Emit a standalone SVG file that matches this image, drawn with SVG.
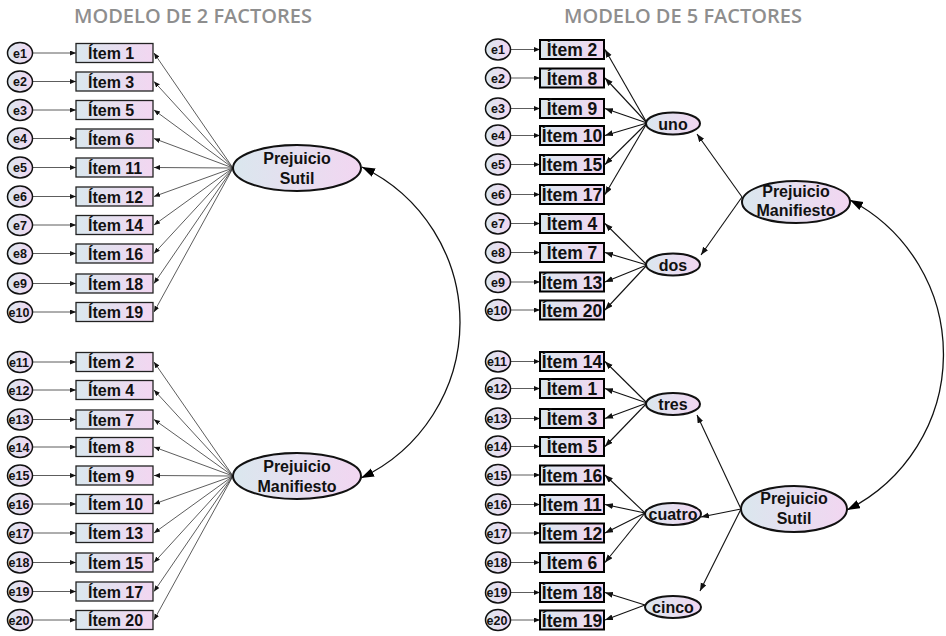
<svg xmlns="http://www.w3.org/2000/svg" width="946" height="636" viewBox="0 0 946 636">
<style>
  .title { font-family: "Open Sans", "Liberation Sans", sans-serif; font-weight: 600; font-size: 20px; fill: #8e8e8e; text-anchor: middle; }
  .box-l { fill: url(#fillGrad); stroke: #222; stroke-width: 1.3; }
  .box-r { fill: url(#fillGrad); stroke: #000; stroke-width: 2; }
  .err { fill: url(#fillGrad); stroke: #111; stroke-width: 1.5; }
  .lat { fill: url(#fillGrad); stroke: #111; stroke-width: 2; }
  .t-item-l { font-family: "Liberation Sans", Arial, sans-serif; font-weight: bold; font-size: 16px; fill: #111; }
  .t-item-r { font-family: "Liberation Sans", Arial, sans-serif; font-weight: bold; font-size: 17.5px; fill: #111; text-anchor: middle; }
  .t-err { font-family: "Liberation Sans", Arial, sans-serif; font-weight: bold; font-size: 12.5px; fill: #111; text-anchor: middle; }
  .t-lat { font-family: "Liberation Sans", Arial, sans-serif; font-weight: bold; font-size: 16px; fill: #111; text-anchor: middle; }
  .ln-thin { stroke: #333; stroke-width: 0.8; fill: none; marker-end: url(#arrSmall); }
  .ln { stroke: #111; stroke-width: 1.1; fill: none; marker-end: url(#arrMid); }
  .cov { stroke: #111; stroke-width: 1.3; fill: none; marker-start: url(#arrBig); marker-end: url(#arrBig); }
</style>
<defs>
  <linearGradient id="fillGrad" x1="0" y1="0" x2="1" y2="0">
    <stop offset="0" stop-color="#dae7ee"/>
    <stop offset="1" stop-color="#f2d6f1"/>
  </linearGradient>
  <marker id="arrSmall" markerUnits="userSpaceOnUse" markerWidth="7" markerHeight="6" refX="6" refY="2.5" orient="auto">
    <path d="M0,0 L6,2.5 L0,5 z" fill="#111"/>
  </marker>
  <marker id="arrMid" markerUnits="userSpaceOnUse" markerWidth="9" markerHeight="8" refX="8" refY="3" orient="auto">
    <path d="M0,0 L8,3 L0,6 z" fill="#111"/>
  </marker>
  <marker id="arrBig" markerUnits="userSpaceOnUse" markerWidth="14" markerHeight="10" refX="13" refY="4.5" orient="auto-start-reverse">
    <path d="M0,0 L13,4.5 L0,9 z" fill="#000"/>
  </marker>
</defs>

<rect width="946" height="636" fill="#fff"/>

<text class="title" x="193" y="23">MODELO DE 2 FACTORES</text>
<text class="title" x="683" y="23">MODELO DE 5 FACTORES</text>

<g id="connectors">
  <!-- two-factor model: error terms -->
  <line class="ln-thin" x1="33" y1="53" x2="76" y2="53"/>
  <line class="ln-thin" x1="33" y1="81.5" x2="76" y2="81.5"/>
  <line class="ln-thin" x1="33" y1="110" x2="76" y2="110"/>
  <line class="ln-thin" x1="33" y1="138.5" x2="76" y2="138.5"/>
  <line class="ln-thin" x1="33" y1="167.5" x2="76" y2="167.5"/>
  <line class="ln-thin" x1="33" y1="196.5" x2="76" y2="196.5"/>
  <line class="ln-thin" x1="33" y1="225" x2="76" y2="225"/>
  <line class="ln-thin" x1="33" y1="253.5" x2="76" y2="253.5"/>
  <line class="ln-thin" x1="33" y1="283.5" x2="76" y2="283.5"/>
  <line class="ln-thin" x1="33" y1="312" x2="76" y2="312"/>
  <line class="ln-thin" x1="33" y1="362" x2="76" y2="362"/>
  <line class="ln-thin" x1="33" y1="390" x2="76" y2="390"/>
  <line class="ln-thin" x1="33" y1="419.5" x2="76" y2="419.5"/>
  <line class="ln-thin" x1="33" y1="447" x2="76" y2="447"/>
  <line class="ln-thin" x1="33" y1="475.5" x2="76" y2="475.5"/>
  <line class="ln-thin" x1="33" y1="504" x2="76" y2="504"/>
  <line class="ln-thin" x1="33" y1="533" x2="76" y2="533"/>
  <line class="ln-thin" x1="33" y1="562.5" x2="76" y2="562.5"/>
  <line class="ln-thin" x1="33" y1="591.5" x2="76" y2="591.5"/>
  <line class="ln-thin" x1="33" y1="620" x2="76" y2="620"/>

  <!-- two-factor model: loadings of Prejuicio Sutil -->
  <line class="ln-thin" x1="233" y1="168" x2="154" y2="53"/>
  <line class="ln-thin" x1="233" y1="168" x2="154" y2="81.5"/>
  <line class="ln-thin" x1="233" y1="168" x2="154" y2="110"/>
  <line class="ln-thin" x1="233" y1="168" x2="154" y2="138.5"/>
  <line class="ln-thin" x1="233" y1="168" x2="154" y2="167.5"/>
  <line class="ln-thin" x1="233" y1="168" x2="154" y2="196.5"/>
  <line class="ln-thin" x1="233" y1="168" x2="154" y2="225"/>
  <line class="ln-thin" x1="233" y1="168" x2="154" y2="253.5"/>
  <line class="ln-thin" x1="233" y1="168" x2="154" y2="283.5"/>
  <line class="ln-thin" x1="233" y1="168" x2="154" y2="312"/>

  <!-- two-factor model: loadings of Prejuicio Manifiesto -->
  <line class="ln-thin" x1="233" y1="476" x2="154" y2="362"/>
  <line class="ln-thin" x1="233" y1="476" x2="154" y2="390"/>
  <line class="ln-thin" x1="233" y1="476" x2="154" y2="419.5"/>
  <line class="ln-thin" x1="233" y1="476" x2="154" y2="447"/>
  <line class="ln-thin" x1="233" y1="476" x2="154" y2="475.5"/>
  <line class="ln-thin" x1="233" y1="476" x2="154" y2="504"/>
  <line class="ln-thin" x1="233" y1="476" x2="154" y2="533"/>
  <line class="ln-thin" x1="233" y1="476" x2="154" y2="562.5"/>
  <line class="ln-thin" x1="233" y1="476" x2="154" y2="591.5"/>
  <line class="ln-thin" x1="233" y1="476" x2="154" y2="620"/>

  <!-- two-factor model: covariance -->
  <path class="cov" d="M362,167 A172,172 0 0,1 361,478"/>

  <!-- five-factor model: error terms -->
  <line class="ln-thin" x1="511" y1="49.5" x2="540" y2="49.5"/>
  <line class="ln-thin" x1="511" y1="78" x2="540" y2="78"/>
  <line class="ln-thin" x1="511" y1="108.5" x2="540" y2="108.5"/>
  <line class="ln-thin" x1="511" y1="135.5" x2="540" y2="135.5"/>
  <line class="ln-thin" x1="511" y1="164.5" x2="540" y2="164.5"/>
  <line class="ln-thin" x1="511" y1="194.5" x2="540" y2="194.5"/>
  <line class="ln-thin" x1="511" y1="223.5" x2="540" y2="223.5"/>
  <line class="ln-thin" x1="511" y1="252.5" x2="540" y2="252.5"/>
  <line class="ln-thin" x1="511" y1="282" x2="540" y2="282"/>
  <line class="ln-thin" x1="511" y1="310" x2="540" y2="310"/>
  <line class="ln-thin" x1="511" y1="361.5" x2="540" y2="361.5"/>
  <line class="ln-thin" x1="511" y1="388.5" x2="540" y2="388.5"/>
  <line class="ln-thin" x1="511" y1="418.5" x2="540" y2="418.5"/>
  <line class="ln-thin" x1="511" y1="446.5" x2="540" y2="446.5"/>
  <line class="ln-thin" x1="511" y1="475" x2="540" y2="475"/>
  <line class="ln-thin" x1="511" y1="504.5" x2="540" y2="504.5"/>
  <line class="ln-thin" x1="511" y1="533" x2="540" y2="533"/>
  <line class="ln-thin" x1="511" y1="562.5" x2="540" y2="562.5"/>
  <line class="ln-thin" x1="511" y1="592.5" x2="540" y2="592.5"/>
  <line class="ln-thin" x1="511" y1="620" x2="540" y2="620"/>

  <!-- five-factor model: first-order loadings -->
  <line class="ln" x1="647" y1="123" x2="605" y2="49.5"/>
  <line class="ln" x1="647" y1="123" x2="605" y2="78"/>
  <line class="ln" x1="647" y1="123" x2="605" y2="108.5"/>
  <line class="ln" x1="647" y1="123" x2="605" y2="135.5"/>
  <line class="ln" x1="647" y1="123" x2="605" y2="164.5"/>
  <line class="ln" x1="647" y1="123" x2="605" y2="194.5"/>

  <line class="ln" x1="647" y1="265" x2="605" y2="223.5"/>
  <line class="ln" x1="647" y1="265" x2="605" y2="252.5"/>
  <line class="ln" x1="647" y1="265" x2="605" y2="282"/>
  <line class="ln" x1="647" y1="265" x2="605" y2="310"/>

  <line class="ln" x1="647" y1="403" x2="605" y2="361.5"/>
  <line class="ln" x1="647" y1="403" x2="605" y2="388.5"/>
  <line class="ln" x1="647" y1="403" x2="605" y2="418.5"/>
  <line class="ln" x1="647" y1="403" x2="605" y2="446.5"/>

  <line class="ln" x1="645" y1="513" x2="605" y2="475"/>
  <line class="ln" x1="645" y1="513" x2="605" y2="504.5"/>
  <line class="ln" x1="645" y1="513" x2="605" y2="533"/>
  <line class="ln" x1="645" y1="513" x2="605" y2="562.5"/>

  <line class="ln" x1="645" y1="605" x2="605" y2="592.5"/>
  <line class="ln" x1="645" y1="605" x2="605" y2="620"/>

  <!-- five-factor model: second-order loadings -->
  <line class="ln" x1="742" y1="197" x2="697" y2="134"/>
  <line class="ln" x1="742" y1="197" x2="701" y2="255"/>
  <line class="ln" x1="741" y1="509" x2="697" y2="415"/>
  <line class="ln" x1="741" y1="509" x2="701" y2="517"/>
  <line class="ln" x1="741" y1="509" x2="700" y2="591"/>

  <!-- five-factor model: covariance -->
  <path class="cov" d="M850,200 A174,174 0 0,1 847,510"/>
</g>

<!-- two-factor model: error terms -->
<g id="l-e1"><ellipse class="err" cx="20" cy="53" rx="12.5" ry="10.5"/><text class="t-err" x="20" y="57.5">e1</text></g>
<g id="l-e2"><ellipse class="err" cx="20" cy="81.5" rx="12.5" ry="10.5"/><text class="t-err" x="20" y="86">e2</text></g>
<g id="l-e3"><ellipse class="err" cx="20" cy="110" rx="12.5" ry="10.5"/><text class="t-err" x="20" y="114.5">e3</text></g>
<g id="l-e4"><ellipse class="err" cx="20" cy="138.5" rx="12.5" ry="10.5"/><text class="t-err" x="20" y="143">e4</text></g>
<g id="l-e5"><ellipse class="err" cx="20" cy="167.5" rx="12.5" ry="10.5"/><text class="t-err" x="20" y="172">e5</text></g>
<g id="l-e6"><ellipse class="err" cx="20" cy="196.5" rx="12.5" ry="10.5"/><text class="t-err" x="20" y="201">e6</text></g>
<g id="l-e7"><ellipse class="err" cx="20" cy="225" rx="12.5" ry="10.5"/><text class="t-err" x="20" y="229.5">e7</text></g>
<g id="l-e8"><ellipse class="err" cx="20" cy="253.5" rx="12.5" ry="10.5"/><text class="t-err" x="20" y="258">e8</text></g>
<g id="l-e9"><ellipse class="err" cx="20" cy="283.5" rx="12.5" ry="10.5"/><text class="t-err" x="20" y="288">e9</text></g>
<g id="l-e10"><ellipse class="err" cx="20" cy="312" rx="12.5" ry="10.5"/><text class="t-err" x="19" y="316.5">e10</text></g>
<g id="l-e11"><ellipse class="err" cx="20" cy="362" rx="12.5" ry="10.5"/><text class="t-err" x="19" y="366.5">e11</text></g>
<g id="l-e12"><ellipse class="err" cx="20" cy="390" rx="12.5" ry="10.5"/><text class="t-err" x="19" y="394.5">e12</text></g>
<g id="l-e13"><ellipse class="err" cx="20" cy="419.5" rx="12.5" ry="10.5"/><text class="t-err" x="19" y="424">e13</text></g>
<g id="l-e14"><ellipse class="err" cx="20" cy="447" rx="12.5" ry="10.5"/><text class="t-err" x="19" y="451.5">e14</text></g>
<g id="l-e15"><ellipse class="err" cx="20" cy="475.5" rx="12.5" ry="10.5"/><text class="t-err" x="19" y="480">e15</text></g>
<g id="l-e16"><ellipse class="err" cx="20" cy="504" rx="12.5" ry="10.5"/><text class="t-err" x="19" y="508.5">e16</text></g>
<g id="l-e17"><ellipse class="err" cx="20" cy="533" rx="12.5" ry="10.5"/><text class="t-err" x="19" y="537.5">e17</text></g>
<g id="l-e18"><ellipse class="err" cx="20" cy="562.5" rx="12.5" ry="10.5"/><text class="t-err" x="19" y="567">e18</text></g>
<g id="l-e19"><ellipse class="err" cx="20" cy="591.5" rx="12.5" ry="10.5"/><text class="t-err" x="19" y="596">e19</text></g>
<g id="l-e20"><ellipse class="err" cx="20" cy="620" rx="12.5" ry="10.5"/><text class="t-err" x="19" y="624.5">e20</text></g>

<!-- two-factor model: observed items -->
<g id="l-item1"><rect class="box-l" x="76" y="43.5" width="77" height="19"/><text class="t-item-l" x="88" y="59">Ítem 1</text></g>
<g id="l-item3"><rect class="box-l" x="76" y="72" width="77" height="19"/><text class="t-item-l" x="88" y="87.5">Ítem 3</text></g>
<g id="l-item5"><rect class="box-l" x="76" y="100.5" width="77" height="19"/><text class="t-item-l" x="88" y="116">Ítem 5</text></g>
<g id="l-item6"><rect class="box-l" x="76" y="129" width="77" height="19"/><text class="t-item-l" x="88" y="144.5">Ítem 6</text></g>
<g id="l-item11"><rect class="box-l" x="76" y="158" width="77" height="19"/><text class="t-item-l" x="88" y="173.5">Ítem 11</text></g>
<g id="l-item12"><rect class="box-l" x="76" y="187" width="77" height="19"/><text class="t-item-l" x="88" y="202.5">Ítem 12</text></g>
<g id="l-item14"><rect class="box-l" x="76" y="215.5" width="77" height="19"/><text class="t-item-l" x="88" y="231">Ítem 14</text></g>
<g id="l-item16"><rect class="box-l" x="76" y="244" width="77" height="19"/><text class="t-item-l" x="88" y="259.5">Ítem 16</text></g>
<g id="l-item18"><rect class="box-l" x="76" y="274" width="77" height="19"/><text class="t-item-l" x="88" y="289.5">Ítem 18</text></g>
<g id="l-item19"><rect class="box-l" x="76" y="302.5" width="77" height="19"/><text class="t-item-l" x="88" y="318">Ítem 19</text></g>
<g id="l-item2"><rect class="box-l" x="76" y="352.5" width="77" height="19"/><text class="t-item-l" x="88" y="368">Ítem 2</text></g>
<g id="l-item4"><rect class="box-l" x="76" y="380.5" width="77" height="19"/><text class="t-item-l" x="88" y="396">Ítem 4</text></g>
<g id="l-item7"><rect class="box-l" x="76" y="410" width="77" height="19"/><text class="t-item-l" x="88" y="425.5">Ítem 7</text></g>
<g id="l-item8"><rect class="box-l" x="76" y="437.5" width="77" height="19"/><text class="t-item-l" x="88" y="453">Ítem 8</text></g>
<g id="l-item9"><rect class="box-l" x="76" y="466" width="77" height="19"/><text class="t-item-l" x="88" y="481.5">Ítem 9</text></g>
<g id="l-item10"><rect class="box-l" x="76" y="494.5" width="77" height="19"/><text class="t-item-l" x="88" y="510">Ítem 10</text></g>
<g id="l-item13"><rect class="box-l" x="76" y="523.5" width="77" height="19"/><text class="t-item-l" x="88" y="539">Ítem 13</text></g>
<g id="l-item15"><rect class="box-l" x="76" y="553" width="77" height="19"/><text class="t-item-l" x="88" y="568.5">Ítem 15</text></g>
<g id="l-item17"><rect class="box-l" x="76" y="582" width="77" height="19"/><text class="t-item-l" x="88" y="597.5">Ítem 17</text></g>
<g id="l-item20"><rect class="box-l" x="76" y="610.5" width="77" height="19"/><text class="t-item-l" x="88" y="626">Ítem 20</text></g>

<!-- two-factor model: latent factors -->
<g id="l-sutil"><ellipse class="lat" cx="297" cy="168" rx="64" ry="23"/><text class="t-lat" x="297" y="164">Prejuicio</text><text class="t-lat" x="297" y="184">Sutil</text></g>
<g id="l-manifiesto"><ellipse class="lat" cx="297" cy="476" rx="64" ry="23"/><text class="t-lat" x="297" y="472">Prejuicio</text><text class="t-lat" x="297" y="492">Manifiesto</text></g>

<!-- five-factor model: error terms -->
<g id="r-e1"><ellipse class="err" cx="498" cy="49.5" rx="12.5" ry="10.5"/><text class="t-err" x="498" y="54">e1</text></g>
<g id="r-e2"><ellipse class="err" cx="498" cy="78" rx="12.5" ry="10.5"/><text class="t-err" x="498" y="82.5">e2</text></g>
<g id="r-e3"><ellipse class="err" cx="498" cy="108.5" rx="12.5" ry="10.5"/><text class="t-err" x="498" y="113">e3</text></g>
<g id="r-e4"><ellipse class="err" cx="498" cy="135.5" rx="12.5" ry="10.5"/><text class="t-err" x="498" y="140">e4</text></g>
<g id="r-e5"><ellipse class="err" cx="498" cy="164.5" rx="12.5" ry="10.5"/><text class="t-err" x="498" y="169">e5</text></g>
<g id="r-e6"><ellipse class="err" cx="498" cy="194.5" rx="12.5" ry="10.5"/><text class="t-err" x="498" y="199">e6</text></g>
<g id="r-e7"><ellipse class="err" cx="498" cy="223.5" rx="12.5" ry="10.5"/><text class="t-err" x="498" y="228">e7</text></g>
<g id="r-e8"><ellipse class="err" cx="498" cy="252.5" rx="12.5" ry="10.5"/><text class="t-err" x="498" y="257">e8</text></g>
<g id="r-e9"><ellipse class="err" cx="498" cy="282" rx="12.5" ry="10.5"/><text class="t-err" x="498" y="286.5">e9</text></g>
<g id="r-e10"><ellipse class="err" cx="498" cy="310" rx="12.5" ry="10.5"/><text class="t-err" x="497" y="314.5">e10</text></g>
<g id="r-e11"><ellipse class="err" cx="498" cy="361.5" rx="12.5" ry="10.5"/><text class="t-err" x="497" y="366">e11</text></g>
<g id="r-e12"><ellipse class="err" cx="498" cy="388.5" rx="12.5" ry="10.5"/><text class="t-err" x="497" y="393">e12</text></g>
<g id="r-e13"><ellipse class="err" cx="498" cy="418.5" rx="12.5" ry="10.5"/><text class="t-err" x="497" y="423">e13</text></g>
<g id="r-e14"><ellipse class="err" cx="498" cy="446.5" rx="12.5" ry="10.5"/><text class="t-err" x="497" y="451">e14</text></g>
<g id="r-e15"><ellipse class="err" cx="498" cy="475" rx="12.5" ry="10.5"/><text class="t-err" x="497" y="479.5">e15</text></g>
<g id="r-e16"><ellipse class="err" cx="498" cy="504.5" rx="12.5" ry="10.5"/><text class="t-err" x="497" y="509">e16</text></g>
<g id="r-e17"><ellipse class="err" cx="498" cy="533" rx="12.5" ry="10.5"/><text class="t-err" x="497" y="537.5">e17</text></g>
<g id="r-e18"><ellipse class="err" cx="498" cy="562.5" rx="12.5" ry="10.5"/><text class="t-err" x="497" y="567">e18</text></g>
<g id="r-e19"><ellipse class="err" cx="498" cy="592.5" rx="12.5" ry="10.5"/><text class="t-err" x="497" y="597">e19</text></g>
<g id="r-e20"><ellipse class="err" cx="498" cy="620" rx="12.5" ry="10.5"/><text class="t-err" x="497" y="624.5">e20</text></g>

<!-- five-factor model: observed items -->
<g id="r-item2"><rect class="box-r" x="540" y="40" width="64" height="19"/><text class="t-item-r" x="572" y="56">Ítem 2</text></g>
<g id="r-item8"><rect class="box-r" x="540" y="68.5" width="64" height="19"/><text class="t-item-r" x="572" y="84.5">Ítem 8</text></g>
<g id="r-item9"><rect class="box-r" x="540" y="99" width="64" height="19"/><text class="t-item-r" x="572" y="115">Ítem 9</text></g>
<g id="r-item10"><rect class="box-r" x="540" y="126" width="64" height="19"/><text class="t-item-r" x="572" y="142">Ítem 10</text></g>
<g id="r-item15"><rect class="box-r" x="540" y="155" width="64" height="19"/><text class="t-item-r" x="572" y="171">Ítem 15</text></g>
<g id="r-item17"><rect class="box-r" x="540" y="185" width="64" height="19"/><text class="t-item-r" x="572" y="201">Ítem 17</text></g>
<g id="r-item4"><rect class="box-r" x="540" y="214" width="64" height="19"/><text class="t-item-r" x="572" y="230">Ítem 4</text></g>
<g id="r-item7"><rect class="box-r" x="540" y="243" width="64" height="19"/><text class="t-item-r" x="572" y="259">Ítem 7</text></g>
<g id="r-item13"><rect class="box-r" x="540" y="272.5" width="64" height="19"/><text class="t-item-r" x="572" y="288.5">Ítem 13</text></g>
<g id="r-item20"><rect class="box-r" x="540" y="300.5" width="64" height="19"/><text class="t-item-r" x="572" y="316.5">Ítem 20</text></g>
<g id="r-item14"><rect class="box-r" x="540" y="352" width="64" height="19"/><text class="t-item-r" x="572" y="368">Ítem 14</text></g>
<g id="r-item1"><rect class="box-r" x="540" y="379" width="64" height="19"/><text class="t-item-r" x="572" y="395">Ítem 1</text></g>
<g id="r-item3"><rect class="box-r" x="540" y="409" width="64" height="19"/><text class="t-item-r" x="572" y="425">Ítem 3</text></g>
<g id="r-item5"><rect class="box-r" x="540" y="437" width="64" height="19"/><text class="t-item-r" x="572" y="453">Ítem 5</text></g>
<g id="r-item16"><rect class="box-r" x="540" y="465.5" width="64" height="19"/><text class="t-item-r" x="572" y="481.5">Ítem 16</text></g>
<g id="r-item11"><rect class="box-r" x="540" y="495" width="64" height="19"/><text class="t-item-r" x="572" y="511">Ítem 11</text></g>
<g id="r-item12"><rect class="box-r" x="540" y="523.5" width="64" height="19"/><text class="t-item-r" x="572" y="539.5">Ítem 12</text></g>
<g id="r-item6"><rect class="box-r" x="540" y="553" width="64" height="19"/><text class="t-item-r" x="572" y="569">Ítem 6</text></g>
<g id="r-item18"><rect class="box-r" x="540" y="583" width="64" height="19"/><text class="t-item-r" x="572" y="599">Ítem 18</text></g>
<g id="r-item19"><rect class="box-r" x="540" y="610.5" width="64" height="19"/><text class="t-item-r" x="572" y="626.5">Ítem 19</text></g>

<!-- five-factor model: first-order factors -->
<g id="r-uno"><ellipse class="lat" cx="673" cy="123.5" rx="27" ry="11"/><text class="t-lat" x="673" y="129.5">uno</text></g>
<g id="r-dos"><ellipse class="lat" cx="673" cy="264.5" rx="27" ry="11"/><text class="t-lat" x="673" y="270.5">dos</text></g>
<g id="r-tres"><ellipse class="lat" cx="673" cy="404" rx="27" ry="11"/><text class="t-lat" x="673" y="410">tres</text></g>
<g id="r-cuatro"><ellipse class="lat" cx="673" cy="514" rx="28" ry="11"/><text class="t-lat" x="673" y="520">cuatro</text></g>
<g id="r-cinco"><ellipse class="lat" cx="673" cy="607" rx="28" ry="11"/><text class="t-lat" x="673" y="613">cinco</text></g>

<!-- five-factor model: second-order factors -->
<g id="r-manifiesto"><ellipse class="lat" cx="796" cy="202" rx="54" ry="21"/><text class="t-lat" x="796" y="197">Prejuicio</text><text class="t-lat" x="796" y="216">Manifiesto</text></g>
<g id="r-sutil"><ellipse class="lat" cx="794" cy="509" rx="53" ry="23"/><text class="t-lat" x="794" y="504">Prejuicio</text><text class="t-lat" x="794" y="524">Sutil</text></g>
</svg>
